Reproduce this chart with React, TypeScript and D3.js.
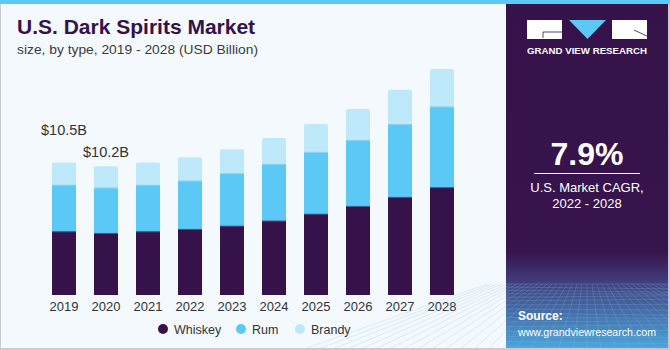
import React, { useEffect, useRef } from 'react'
import * as d3 from 'd3'

const years = ['2019', '2020', '2021', '2022', '2023', '2024', '2025', '2026', '2027', '2028']
const whiskey = [5.05, 4.92, 5.05, 5.24, 5.5, 5.9, 6.45, 7.06, 7.78, 8.55]
const rum = [3.7, 3.6, 3.7, 3.83, 4.16, 4.5, 4.9, 5.24, 5.77, 6.4]
const brandy = [1.75, 1.68, 1.75, 1.86, 1.9, 2.04, 2.2, 2.44, 2.72, 2.97]
const seriesNames = ['Whiskey', 'Rum', 'Brandy']
const colors = ['#36124a', '#5bc8f5', '#bde9fa']
const annotations = [{ year: '2019', text: '$10.5B', dx: -11, dy: -28 }, { year: '2020', text: '$10.2B', dx: -11, dy: -9 }]

const W = 670, H = 350
const font = '"Liberation Sans", Arial, sans-serif'

export default function App() {
  const ref = useRef<SVGSVGElement>(null)

  useEffect(() => {
    const svg = d3.select(ref.current)
    svg.selectAll('*').remove()

    // background + frame
    svg.append('rect').attr('x', 0).attr('y', 0).attr('width', W).attr('height', H).attr('fill', '#c9cccf')
    svg.append('rect').attr('x', 1).attr('y', 0).attr('width', W - 3).attr('height', H - 2).attr('fill', '#f4f9fd')
    svg.append('rect').attr('x', 0).attr('y', 0).attr('width', W).attr('height', 4).attr('fill', '#5bc8f5')

    // title
    svg.append('text').attr('x', 17).attr('y', 34).text('U.S. Dark Spirits Market')
      .style('font-family', font).style('font-weight', 'bold').style('font-size', '21px').attr('fill', '#36124a')
    svg.append('text').attr('x', 17).attr('y', 54).text('size, by type, 2019 - 2028 (USD Billion)')
      .attr('textLength', 241).attr('lengthAdjust', 'spacingAndGlyphs')
      .style('font-family', font).style('font-size', '13.5px').attr('fill', '#3b3b3b')

    // chart
    const data = years.map((y, i) => ({ year: y, Whiskey: whiskey[i], Rum: rum[i], Brandy: brandy[i] }))
    const stack = d3.stack<any>().keys(seriesNames)(data)

    const x = d3.scaleBand().domain(years).range([41.5, 464.5]).paddingInner(0.4286).paddingOuter(0.25)
    const y = d3.scaleLinear().domain([0, 18]).range([295, 68])

    const g = svg.append('g')
    stack.forEach((s, si) => {
      g.append('g').attr('fill', colors[si])
        .selectAll('path')
        .data(s)
        .join('path')
        .attr('d', d => {
          const x0 = x(d.data.year)!, w = x.bandwidth()
          const y0 = y(d[0]), y1 = y(d[1])
          if (si < 2) return `M${x0},${y0}V${y1}H${x0 + w}V${y0}Z`
          const r = 2
          return `M${x0},${y0}V${y1 + r}Q${x0},${y1} ${x0 + r},${y1}H${x0 + w - r}Q${x0 + w},${y1} ${x0 + w},${y1 + r}V${y0}Z`
        })
    })
    // thin separators between segments
    stack.slice(0, 2).forEach((s, si) => {
      g.append('g').attr('stroke', si === 0 ? '#4a5a8a' : '#8fd3f2').attr('stroke-width', 1)
        .selectAll('line').data(s).join('line')
        .attr('x1', d => x(d.data.year)!).attr('x2', d => x(d.data.year)! + x.bandwidth())
        .attr('y1', d => y(d[1]) + 0.5).attr('y2', d => y(d[1]) + 0.5)
    })

    // x axis labels
    const xAxis = svg.append('g').attr('transform', 'translate(0,295)')
      .call(d3.axisBottom(x).tickSize(0).tickPadding(7))
    xAxis.select('.domain').remove()
    xAxis.selectAll('text').style('font-family', font).style('font-size', '13px').attr('fill', '#333')

    // annotations
    const totals = data.map(d => d.Whiskey + d.Rum + d.Brandy)
    annotations.forEach(a => {
      const i = years.indexOf(a.year)
      svg.append('text').attr('x', x(a.year)! + a.dx).attr('y', y(totals[i]) + a.dy).text(a.text)
        .style('font-family', font).style('font-size', '14.5px').attr('fill', '#333')
    })

    // legend
    const legendX = [163, 241, 300]
    seriesNames.forEach((n, i) => {
      svg.append('circle').attr('cx', legendX[i]).attr('cy', 329).attr('r', 5).attr('fill', colors[i])
      svg.append('text').attr('x', legendX[i] + 11).attr('y', 333.5).text(n)
        .style('font-family', font).style('font-size', '12.5px').attr('fill', '#333')
    })

    // right panel
    const defs = svg.append('defs')
    const grad = defs.append('linearGradient').attr('id', 'pgrad').attr('x1', 0).attr('y1', 0).attr('x2', 0).attr('y2', 1)
    grad.append('stop').attr('offset', '0%').attr('stop-color', '#36124a')
    grad.append('stop').attr('offset', '72%').attr('stop-color', '#37144c')
    grad.append('stop').attr('offset', '80%').attr('stop-color', '#3f3a78')
    grad.append('stop').attr('offset', '100%').attr('stop-color', '#4aa6dc')
    svg.append('rect').attr('x', 506).attr('y', 4).attr('width', 162).attr('height', 344).attr('fill', 'url(#pgrad)')

    // grid pattern at bottom of panel
    const grid = svg.append('g').attr('stroke', '#8fb6e0').attr('stroke-opacity', 0.35).attr('stroke-width', 0.7)
    d3.range(0, 24).forEach(i => {
      const yy = 284 + i * 3 + i * i * 0.08
      if (yy < 348) grid.append('line').attr('x1', 506).attr('x2', 668).attr('y1', yy).attr('y2', yy + Math.sin(i) * 2)
    })
    d3.range(-20, 21).forEach(i => {
      grid.append('line').attr('x1', 587 + i * 5).attr('y1', 284).attr('x2', 587 + i * 14).attr('y2', 348)
    })

    // logo
    svg.append('rect').attr('x', 527).attr('y', 20).attr('width', 35).attr('height', 19).attr('fill', '#fff')
    svg.append('path').attr('d', 'M569,20H606L587.5,39Z').attr('fill', '#5bc8f5')
    svg.append('rect').attr('x', 612).attr('y', 20).attr('width', 35).attr('height', 19).attr('fill', '#fff')
    svg.append('path').attr('d', 'M543,32H562M543,32V38').attr('stroke', '#36124a').attr('stroke-width', 0.8).attr('fill', 'none')
    svg.append('path').attr('d', 'M634,30L647,36').attr('stroke', '#36124a').attr('stroke-width', 0.8).attr('fill', 'none')
    svg.append('text').attr('x', 527).attr('y', 54).text('GRAND VIEW RESEARCH')
      .attr('textLength', 120).attr('lengthAdjust', 'spacingAndGlyphs')
      .style('font-family', font).style('font-weight', 'bold').style('font-size', '9px').attr('fill', '#fff')

    svg.append('text').attr('x', 587).attr('y', 165).attr('text-anchor', 'middle').text('7.9%')
      .style('font-family', font).style('font-weight', 'bold').style('font-size', '32px').attr('fill', '#fff')
    svg.append('line').attr('x1', 534).attr('x2', 640).attr('y1', 173.5).attr('y2', 173.5).attr('stroke', '#fff').attr('stroke-width', 1)
    svg.append('text').attr('x', 587).attr('y', 192).attr('text-anchor', 'middle').text('U.S. Market CAGR,')
      .style('font-family', font).style('font-size', '13px').attr('fill', '#fff')
    svg.append('text').attr('x', 587).attr('y', 208).attr('text-anchor', 'middle').text('2022 - 2028')
      .style('font-family', font).style('font-size', '13px').attr('fill', '#fff')

    svg.append('text').attr('x', 518).attr('y', 320).text('Source:')
      .style('font-family', font).style('font-weight', 'bold').style('font-size', '12px').attr('fill', '#fff')
    svg.append('text').attr('x', 518).attr('y', 336).text('www.grandviewresearch.com')
      .attr('textLength', 138).attr('lengthAdjust', 'spacingAndGlyphs')
      .style('font-family', font).style('font-size', '11px').attr('fill', '#fff')
  }, [])

  return (
    <svg ref={ref} width={W} height={H} style={{ display: 'block', position: 'absolute', left: 0, top: 0 }} />
  )
}
